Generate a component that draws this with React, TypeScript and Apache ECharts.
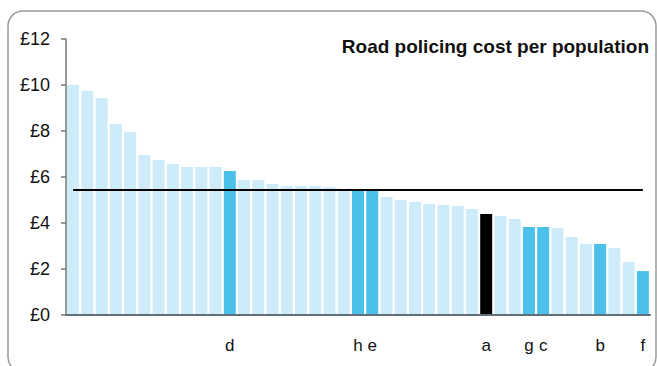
import React, { useEffect, useRef } from "react";
import * as echarts from "echarts";

const forces: string[] = Array.from({ length: 41 }, (_, i) => `F${i + 1}`);
const costs: number[] = [
  10.0, 9.75, 9.43, 8.3, 7.96, 6.96, 6.74, 6.57, 6.43, 6.43, 6.43, 6.26,
  5.87, 5.87, 5.7, 5.61, 5.61, 5.61, 5.57, 5.45, 5.43, 5.43, 5.13, 5.0,
  4.91, 4.83, 4.78, 4.74, 4.61, 4.39, 4.3, 4.17, 3.83, 3.83, 3.78, 3.39,
  3.09, 3.09, 2.91, 2.3, 1.91,
];
// label letters for highlighted forces ('' = not labelled)
const letters: string[] = [
  "", "", "", "", "", "", "", "", "", "", "", "d",
  "", "", "", "", "", "", "", "", "h", "e", "", "",
  "", "", "", "", "", "a", "", "", "g", "c", "", "",
  "", "b", "", "", "f",
];
const average = 5.43;
const yTicks: number[] = [0, 2, 4, 6, 8, 10, 12];
const title = "Road policing cost per population";

const LIGHT = "#cdebf8";
const HIGHLIGHT = "#4ac0ea";
const FOCUS = "#000000";

export default function App() {
  const ref = useRef<HTMLDivElement>(null);
  useEffect(() => {
    if (!ref.current) return;
    const chart = echarts.init(ref.current, null, { renderer: "svg" });
    const font = "Arial, 'Liberation Sans', sans-serif";
    chart.setOption({
      animation: false,
      textStyle: { fontFamily: font },
      grid: { left: 66, right: 7, top: 39, bottom: 51, containLabel: false },
      graphic: [
        {
          type: "rect",
          shape: { x: 8, y: 11, width: 648, height: 361, r: 15 },
          style: { fill: "none", stroke: "#9a9a9a", lineWidth: 1.5 },
          silent: true,
        },
        {
          type: "text",
          right: 8,
          top: 37,
          style: {
            text: title,
            font: `bold 19px ${font}`,
            fill: "#111",
          },
        },
      ],
      xAxis: {
        type: "category",
        data: forces,
        axisLine: { show: true, lineStyle: { color: "#5f7079", width: 2 } },
        axisTick: { show: false },
        axisLabel: {
          interval: 0,
          margin: 22,
          fontSize: 17,
          color: "#111",
          fontFamily: font,
          formatter: (_v: string, i: number) => letters[i],
        },
        z: 5,
      },
      yAxis: {
        type: "value",
        min: yTicks[0],
        max: yTicks[yTicks.length - 1],
        interval: 2,
        splitLine: { show: false },
        axisLine: { show: true, lineStyle: { color: "#777", width: 1.5 } },
        axisTick: { show: true, length: 5, lineStyle: { color: "#777", width: 1.5 } },
        axisLabel: {
          margin: 16,
          fontSize: 18,
          color: "#111",
          fontFamily: font,
          formatter: (v: number) => `£${v}`,
        },
      },
      series: [
        {
          type: "bar",
          barWidth: 12,
          data: costs.map((v, i) => ({
            value: v,
            itemStyle: {
              color: letters[i] === "a" ? FOCUS : letters[i] ? HIGHLIGHT : LIGHT,
            },
          })),
          markLine: {
            silent: true,
            symbol: "none",
            label: { show: false },
            lineStyle: { color: "#000", width: 2, type: "solid" },
            data: [
              [
                { coord: [forces[0], average] },
                { coord: [forces[forces.length - 1], average] },
              ],
            ],
          },
        },
      ],
    });
    return () => chart.dispose();
  }, []);
  return (
    <div
      ref={ref}
      style={{ position: "absolute", left: 0, top: 0, width: 657, height: 366 }}
    />
  );
}
